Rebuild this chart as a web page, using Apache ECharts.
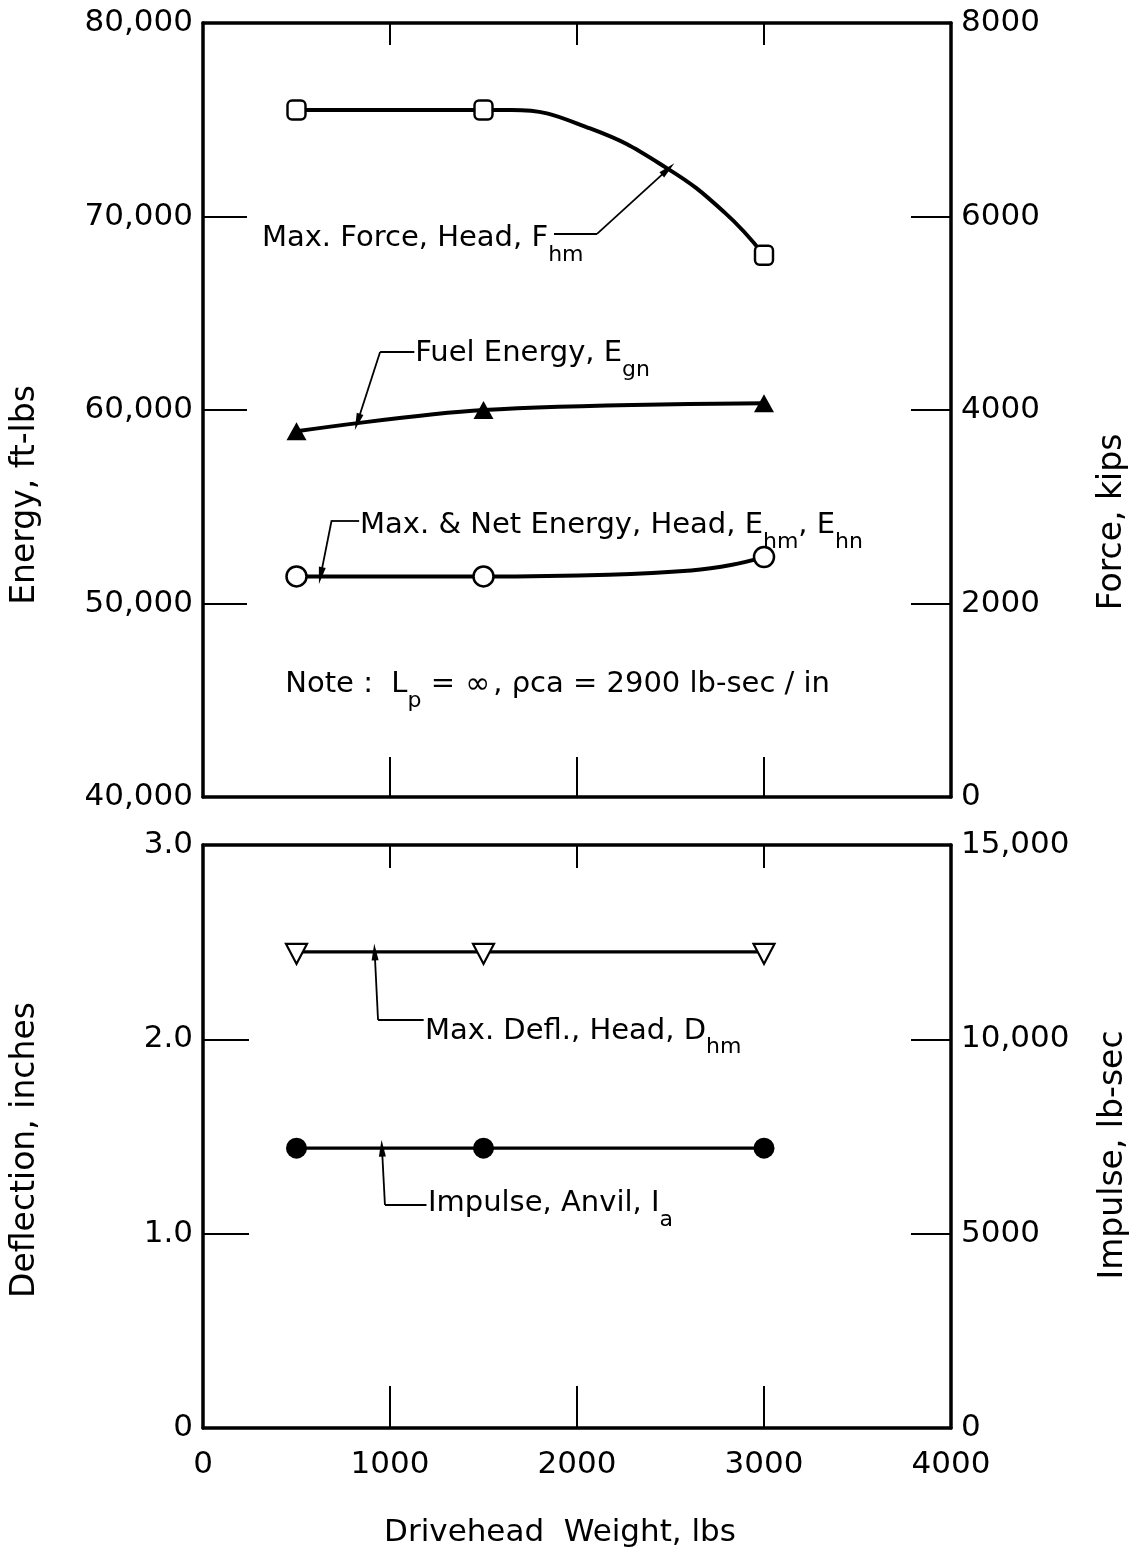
<!DOCTYPE html>
<html>
<head>
<meta charset="utf-8">
<script src="https://cdn.jsdelivr.net/npm/echarts@6/dist/echarts.min.js"></script>
<style>
  html, body { margin: 0; padding: 0; background: #fff; }
  #chart { width: 1137px; height: 1552px; }
</style>
</head>
<body>
<div id="chart"></div>
<script>
// ---- data -------------------------------------------------------------
// Drivehead weights of the three runs, lbs
const weights = [500, 1500, 3000];

// Upper panel
const maxForceHead = [7100, 7100, 5600];          // F_hm, kips (right axis)
// points along the faired F_hm curve between the 1500 and 3000 lb runs
const maxForceHeadBend = [[1650, 7100], [2070, 6910], [2480, 6500], [2790, 6040]];
const fuelEnergy = [58900, 60000, 60350];         // E_gn, ft-lbs
const headEnergy = [51400, 51400, 52400];         // E_hm, E_hn, ft-lbs
// points along the faired E_hm curve between the 1500 and 3000 lb runs
const headEnergyBend = [[2170, 51490], [2610, 51710], [2830, 52000]];

// Lower panel
const maxDeflHead = [2.45, 2.45, 2.45];           // D_hm, inches
const anvilImpulse = [7200, 7200, 7200];          // I_a, lb-sec (right axis)

// Tick labels
const weightTicks  = ['0', '1000', '2000', '3000', '4000'];
const energyTicks  = ['40,000', '50,000', '60,000', '70,000', '80,000'];
const forceTicks   = ['0', '2000', '4000', '6000', '8000'];
const deflTicks    = ['0', '1.0', '2.0', '3.0'];
const impulseTicks = ['0', '5000', '10,000', '15,000'];

// ---- styling ----------------------------------------------------------
const FONT = '"DejaVu Sans", sans-serif';
const INK = '#000';
const FRAME = 3.5;
const CURVE = 4;
const TICK_FONT = 31;

const chart = echarts.init(document.getElementById('chart'), null, { renderer: 'canvas' });

function pairs(xs, ys) { return xs.map((x, i) => [x, ys[i]]); }
function traced(xs, ys, bend) {
  return pairs(xs, ys).concat(bend).sort((a, b) => a[0] - b[0]);
}
function tickFormatter(labels, min, step) {
  return v => { const k = Math.round((v - min) / step); return labels[k] !== undefined ? labels[k] : ''; };
}

function xAxisDef(gridIndex, position, tickLen, showLabels) {
  return {
    type: 'value', gridIndex, position, min: 0, max: 4000, interval: 1000,
    axisLine: { show: true, onZero: false, lineStyle: { color: INK, width: FRAME } },
    axisTick: { show: true, inside: true, length: tickLen, lineStyle: { color: INK, width: 2 } },
    axisLabel: {
      show: showLabels, formatter: tickFormatter(weightTicks, 0, 1000),
      color: INK, fontFamily: FONT, fontSize: TICK_FONT, margin: 21,
      showMinLabel: true, showMaxLabel: true
    },
    splitLine: { show: false }
  };
}

function yAxisDef(gridIndex, position, min, max, step, labels, tickLen) {
  return {
    type: 'value', gridIndex, position, min, max, interval: step,
    axisLine: { show: true, onZero: false, lineStyle: { color: INK, width: FRAME } },
    axisTick: { show: true, inside: true, length: tickLen, lineStyle: { color: INK, width: 2 } },
    axisLabel: {
      formatter: tickFormatter(labels, min, step),
      color: INK, fontFamily: FONT, fontSize: TICK_FONT, margin: 10,
      showMinLabel: true, showMaxLabel: true
    },
    splitLine: { show: false }
  };
}

// Leader line: straight run from the label, then a slanted run ending in an arrowhead on the curve
function leader(p0, p1, tip) {
  return {
    silent: true,
    animation: false,
    symbolSize: [7, 17],
    label: { show: false },
    emphasis: { disabled: true },
    lineStyle: { color: INK, width: 1.8, type: 'solid' },
    data: [
      [{ coord: p0, symbol: 'none' }, { coord: p1, symbol: 'none' }],
      [{ coord: p1, symbol: 'none' }, { coord: tip, symbol: 'triangle' }]
    ]
  };
}

const lineStyle = { color: INK, width: CURVE };
const openMark = { color: '#fff', borderColor: INK, borderWidth: 2.5, opacity: 1 };
const solidMark = { color: INK, opacity: 1 };

const option = {
  backgroundColor: '#fff',
  animation: false,
  grid: [
    { left: 203, top: 23, width: 748, height: 774, outerBoundsMode: 'none' },
    { left: 203, top: 845, width: 748, height: 583, outerBoundsMode: 'none' }
  ],
  xAxis: [
    xAxisDef(0, 'bottom', 40, false),
    xAxisDef(0, 'top', 22, false),
    xAxisDef(1, 'bottom', 42, true),
    xAxisDef(1, 'top', 23, false)
  ],
  yAxis: [
    yAxisDef(0, 'left', 40000, 80000, 10000, energyTicks, 44),
    yAxisDef(0, 'right', 0, 8000, 2000, forceTicks, 40),
    yAxisDef(1, 'left', 0, 3, 1, deflTicks, 46),
    yAxisDef(1, 'right', 0, 15000, 5000, impulseTicks, 40)
  ],
  series: [
    // 0: maximum force at the head (curve)
    {
      name: 'Max. Force, Head', type: 'line', xAxisIndex: 0, yAxisIndex: 1,
      data: traced(weights, maxForceHead, maxForceHeadBend),
      smooth: 0.45, showSymbol: false, lineStyle, silent: true,
      markLine: leader([1877, 5820], [2107, 5820], [2487, 6490])
    },
    // 1: maximum force at the head (points)
    {
      type: 'scatter', xAxisIndex: 0, yAxisIndex: 1, z: 5,
      data: pairs(weights, maxForceHead),
      symbol: 'roundRect', symbolSize: [18, 19], itemStyle: openMark
    },
    // 2: fuel energy
    {
      name: 'Fuel Energy', type: 'line', xAxisIndex: 0, yAxisIndex: 0,
      data: pairs(weights, fuelEnergy), smooth: 0.35,
      symbol: 'triangle', symbolSize: [20, 18], itemStyle: solidMark, lineStyle,
      markLine: leader([1130, 63000], [947, 63000], [826, 59380])
    },
    // 3: max & net energy at the head (curve)
    {
      name: 'Max. & Net Energy, Head', type: 'line', xAxisIndex: 0, yAxisIndex: 0,
      data: traced(weights, headEnergy, headEnergyBend),
      smooth: 0.3, showSymbol: false, lineStyle, silent: true,
      markLine: leader([835, 54300], [688, 54300], [629, 51440])
    },
    // 4: max & net energy at the head (points)
    {
      type: 'scatter', xAxisIndex: 0, yAxisIndex: 0, z: 5,
      data: pairs(weights, headEnergy),
      symbol: 'circle', symbolSize: 20, itemStyle: openMark
    },
    // 5: maximum deflection at the head
    {
      name: 'Max. Defl., Head', type: 'line', xAxisIndex: 2, yAxisIndex: 2,
      data: pairs(weights, maxDeflHead),
      symbol: 'triangle', symbolRotate: 180, symbolSize: [21, 20], symbolOffset: [0, 2],
      itemStyle: { color: '#fff', borderColor: INK, borderWidth: 2.2, opacity: 1 },
      lineStyle: { color: INK, width: 3.2 },
      markLine: leader([1180, 2.10], [936, 2.10], [918, 2.45])
    },
    // 6: anvil impulse
    {
      name: 'Impulse, Anvil', type: 'line', xAxisIndex: 2, yAxisIndex: 3,
      data: pairs(weights, anvilImpulse),
      symbol: 'circle', symbolSize: 21, itemStyle: solidMark,
      lineStyle: { color: INK, width: 3.2 },
      markLine: leader([1195, 5740], [973, 5740], [957, 7200])
    }
  ]
};

chart.setOption(option);

// ---- annotation text ---------------------------------------------------
const RICH = {
  n:   { fontFamily: FONT, fontSize: 29, lineHeight: 30, verticalAlign: 'top', fill: INK },
  s:   { fontFamily: FONT, fontSize: 22, lineHeight: 22, verticalAlign: 'top', padding: [20, 0, 0, 0], fill: INK },
  sup: { fontFamily: FONT, fontSize: 30, lineHeight: 22, verticalAlign: 'top', padding: [0, 3, 0, 1], fill: INK }
};

// anchor: [weight, value] on the axis pair used by the given series; text starts there, centred on its capitals
const notes = [
  { series: 0, at: [315, 5810],   text: '{n|Max. Force, Head, F}{s|hm}' },
  { series: 2, at: [1135, 63100], text: '{n|Fuel Energy, E}{s|gn}' },
  { series: 3, at: [840, 54200],  text: '{n|Max. & Net Energy, Head, E}{s|hm}{n|, E}{s|hn}' },
  { series: 3, at: [440, 46000],  text: '{n|Note :  L}{s|p}{n| = }{sup|∞}{n|, ρca = 2900 lb-sec / in}' },
  { series: 5, at: [1187, 2.06],  text: '{n|Max. Defl., Head, D}{s|hm}' },
  { series: 6, at: [1203, 5870],  text: '{n|Impulse, Anvil, I}{s|a}' }
];

const graphics = notes.map(nt => {
  const p = chart.convertToPixel({ seriesIndex: nt.series }, nt.at);
  return {
    type: 'text', x: p[0], y: p[1] - 11, silent: true, z: 10,
    style: { text: nt.text, rich: RICH, align: 'left', verticalAlign: 'top', fill: INK,
             fontFamily: FONT, fontSize: 29 }
  };
});

// axis titles
const titles = [
  { x: 25,   y: 495,  rot: Math.PI / 2, size: 33, text: 'Energy, ft-lbs' },
  { x: 1112, y: 522,  rot: Math.PI / 2, size: 33, text: 'Force, kips' },
  { x: 25,   y: 1150, rot: Math.PI / 2, size: 33, text: 'Deflection, inches' },
  { x: 1113, y: 1155, rot: Math.PI / 2, size: 33, text: 'Impulse, lb-sec' },
  { x: 560,  y: 1533, rot: 0,           size: 31, text: 'Drivehead  Weight, lbs' }
];
titles.forEach(t => graphics.push({
  type: 'text', x: t.x, y: t.y, rotation: t.rot, silent: true,
  style: { text: t.text, fontFamily: FONT, fontSize: t.size, fill: INK, align: 'center', verticalAlign: 'middle' }
}));

chart.setOption({ graphic: graphics });
</script>
</body>
</html>
